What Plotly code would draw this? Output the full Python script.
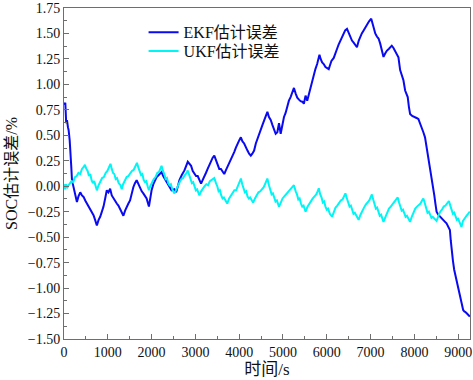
import plotly.graph_objects as go

# time (s) and SOC estimation error (%)
ekf_t = [0, 30, 50, 68, 90, 106, 130, 144, 165, 182, 220, 258, 295, 330, 371, 410, 447, 485, 523, 560,
         598, 635, 674, 710, 750, 790, 826, 865, 902, 940, 977, 1015, 1053, 1091, 1130, 1167, 1205, 1242,
         1280, 1318, 1356, 1395, 1432, 1470, 1508, 1545, 1583, 1620, 1659, 1700, 1735, 1775, 1811, 1850,
         1886, 1939, 1970, 2000, 2040, 2076, 2115, 2152, 2190, 2227, 2265, 2303, 2340, 2379, 2420, 2455,
         2520, 2561, 2600, 2636, 2690, 2750, 2826, 2860, 2902, 2940, 2977, 3015, 3053, 3090, 3129, 3165,
         3205, 3240, 3280, 3320, 3356, 3395, 3432, 3470, 3508, 3545, 3583, 3620, 3659, 3700, 3735, 3775,
         3811, 3850, 3886, 3925, 3962, 4000, 4038, 4075, 4114, 4150, 4189, 4227, 4265, 4300, 4341, 4380,
         4417, 4455, 4492, 4530, 4568, 4610, 4644, 4680, 4720, 4760, 4795, 4833, 4871, 4909, 4947, 4985,
         5023, 5060, 5098, 5135, 5174, 5212, 5250, 5290, 5326, 5365, 5402, 5440, 5477, 5515, 5553, 5590,
         5629, 5665, 5705, 5740, 5780, 5833, 5860, 5894, 5930, 5970, 6010, 6045, 6075, 6106, 6159, 6200,
         6235, 6270, 6311, 6350, 6386, 6420, 6462, 6500, 6538, 6575, 6614, 6650, 6689, 6730, 6765, 6800,
         6841, 6880, 6917, 6965, 7015, 7050, 7107, 7144, 7182, 7220, 7260, 7295, 7330, 7370, 7420, 7484,
         7520, 7561, 7600, 7636, 7675, 7710, 7750, 7789, 7848, 7875, 7902, 7950, 8016, 8050, 8091, 8130,
         8166, 8205, 8243, 8275, 8302, 8330, 8357, 8385, 8409, 8430, 8455, 8480, 8507, 8545, 8584, 8620,
         8659, 8700, 8734, 8770, 8811, 8830, 8848, 8880, 8909, 8935, 8961, 8990, 9016, 9040, 9061, 9090,
         9114, 9140, 9166, 9200, 9240, 9266]
ekf_err = [0.80, 0.82, 0.62, 0.65, 0.58, 0.55, 0.45, 0.38, 0.20, 0.06, -0.01, -0.07, -0.155, -0.10, -0.06,
           -0.09, -0.105, -0.14, -0.17, -0.19, -0.22, -0.26, -0.285, -0.33, -0.385, -0.33, -0.30, -0.25,
           -0.20, -0.12, -0.04, -0.06, -0.025, -0.09, -0.12, -0.155, -0.17, -0.19, -0.22, -0.25, -0.29,
           -0.24, -0.20, -0.17, -0.14, -0.07, -0.01, 0.03, 0.06, 0.02, -0.02, -0.05, -0.07, -0.10, -0.12,
           -0.20, -0.10, -0.04, 0.02, 0.06, 0.09, 0.105, 0.12, 0.14, 0.10, 0.07, 0.05, 0.025, -0.01, -0.04,
           -0.03, -0.06, 0.00, 0.06, 0.11, 0.155, 0.24, 0.22, 0.20, 0.15, 0.12, 0.10, 0.10, 0.06, 0.025,
           0.06, 0.09, 0.13, 0.17, 0.21, 0.25, 0.28, 0.30, 0.25, 0.20, 0.17, 0.17, 0.14, 0.12, 0.16, 0.19,
           0.23, 0.27, 0.30, 0.335, 0.38, 0.42, 0.45, 0.48, 0.44, 0.42, 0.38, 0.35, 0.32, 0.30, 0.32, 0.35,
           0.42, 0.47, 0.51, 0.55, 0.60, 0.645, 0.70, 0.73, 0.68, 0.65, 0.60, 0.565, 0.515, 0.53, 0.62,
           0.515, 0.60, 0.68, 0.72, 0.79, 0.84, 0.875, 0.93, 0.965, 0.91, 0.87, 0.85, 0.835, 0.83, 0.81,
           0.89, 0.84, 0.90, 0.97, 1.04, 1.10, 1.15, 1.20, 1.29, 1.25, 1.215, 1.20, 1.17, 1.16, 1.15, 1.19,
           1.23, 1.26, 1.30, 1.35, 1.39, 1.43, 1.47, 1.51, 1.53, 1.545, 1.50, 1.46, 1.43, 1.41, 1.39, 1.365,
           1.43, 1.47, 1.50, 1.53, 1.56, 1.59, 1.62, 1.645, 1.58, 1.50, 1.47, 1.45, 1.40, 1.33, 1.27, 1.30,
           1.33, 1.35, 1.38, 1.36, 1.33, 1.30, 1.265, 1.14, 1.09, 1.04, 0.94, 0.875, 0.78, 0.71, 0.69, 0.68,
           0.67, 0.66, 0.62, 0.58, 0.53, 0.48, 0.40, 0.32, 0.24, 0.155, 0.09, 0.025, -0.03, -0.09, -0.17,
           -0.25, -0.28, -0.30, -0.32, -0.335, -0.35, -0.365, -0.39, -0.43, -0.53, -0.63, -0.73, -0.82,
           -0.87, -0.92, -0.99, -1.05, -1.09, -1.12, -1.17, -1.215, -1.23, -1.235, -1.25, -1.27, -1.28]

ukf_t = [0, 20, 45, 70, 90, 130, 170, 210, 250, 290, 330, 370, 410, 450, 477, 510, 540, 570, 600, 630,
         660, 690, 720, 750, 790, 830, 870, 910, 950, 990, 1030, 1061, 1090, 1120, 1150, 1180, 1210, 1250,
         1290, 1318, 1350, 1390, 1430, 1470, 1510, 1550, 1590, 1630, 1666, 1700, 1730, 1760, 1790, 1820,
         1850, 1880, 1910, 1939, 1970, 2010, 2050, 2090, 2130, 2170, 2200, 2227, 2260, 2290, 2320, 2350,
         2380, 2410, 2440, 2480, 2523, 2560, 2600, 2640, 2680, 2720, 2760, 2800, 2825, 2860, 2890, 2920,
         2950, 2980, 3010, 3040, 3070, 3091, 3130, 3170, 3210, 3250, 3290, 3330, 3370, 3400, 3432, 3470,
         3500, 3530, 3560, 3590, 3620, 3650, 3690, 3727, 3770, 3810, 3850, 3890, 3930, 3970, 4005, 4039,
         4070, 4100, 4130, 4160, 4190, 4220, 4250, 4290, 4318, 4360, 4400, 4440, 4480, 4520, 4560, 4600,
         4643, 4680, 4710, 4740, 4770, 4800, 4830, 4860, 4890, 4909, 4950, 4990, 5030, 5070, 5110, 5150,
         5190, 5220, 5250, 5290, 5320, 5350, 5380, 5410, 5440, 5470, 5500, 5516, 5560, 5600, 5640, 5680,
         5720, 5760, 5790, 5818, 5850, 5880, 5910, 5940, 5970, 6000, 6030, 6070, 6120, 6160, 6200, 6240,
         6280, 6320, 6360, 6400, 6425, 6460, 6490, 6520, 6550, 6580, 6610, 6640, 6680, 6727, 6770, 6810,
         6850, 6890, 6930, 6970, 7000, 7030, 7060, 7090, 7120, 7150, 7180, 7210, 7240, 7270, 7295, 7340,
         7380, 7420, 7460, 7500, 7540, 7580, 7620, 7650, 7680, 7710, 7740, 7770, 7800, 7830, 7870, 7902,
         7940, 7980, 8020, 8060, 8100, 8140, 8175, 8205, 8240, 8270, 8300, 8330, 8360, 8390, 8420, 8460,
         8507, 8550, 8590, 8630, 8670, 8710, 8750, 8789, 8820, 8850, 8880, 8910, 8940, 8970, 9000, 9040,
         9075, 9110, 9150, 9190, 9230, 9266]
ukf_err = [0.02, -0.03, 0.02, -0.02, 0.00, 0.03, 0.05, 0.04, 0.09, 0.10, 0.13, 0.12, 0.17, 0.19, 0.21,
           0.17, 0.15, 0.10, 0.12, 0.06, 0.03, 0.05, -0.01, -0.04, 0.01, 0.05, 0.08, 0.09, 0.13, 0.15, 0.19,
           0.22, 0.17, 0.13, 0.12, 0.07, 0.08, 0.03, 0.01, -0.03, 0.02, 0.05, 0.09, 0.10, 0.13, 0.15, 0.16,
           0.20, 0.23, 0.18, 0.15, 0.11, 0.12, 0.06, 0.04, 0.05, 0.00, -0.04, 0.00, 0.04, 0.07, 0.09, 0.13,
           0.14, 0.17, 0.20, 0.15, 0.12, 0.07, 0.08, 0.03, 0.01, 0.02, -0.04, -0.07, -0.03, 0.00, 0.04, 0.07,
           0.08, 0.11, 0.13, 0.155, 0.10, 0.07, 0.03, 0.04, -0.01, -0.04, -0.03, -0.07, -0.09, -0.05, -0.02,
           0.00, 0.02, 0.01, 0.05, 0.06, 0.07, 0.08, 0.03, 0.00, -0.05, -0.04, -0.09, -0.12, -0.11, -0.15,
           -0.17, -0.12, -0.09, -0.06, -0.04, -0.04, 0.00, 0.03, 0.075, 0.02, -0.02, -0.06, -0.05, -0.10,
           -0.12, -0.11, -0.14, -0.16, -0.12, -0.09, -0.06, -0.05, -0.03, -0.01, 0.03, 0.075, 0.01, -0.03,
           -0.08, -0.07, -0.12, -0.15, -0.14, -0.18, -0.20, -0.16, -0.12, -0.10, -0.08, -0.07, -0.04, -0.03,
           -0.01, 0.01, -0.05, -0.08, -0.13, -0.12, -0.17, -0.20, -0.19, -0.23, -0.25, -0.20, -0.17, -0.14,
           -0.12, -0.10, -0.08, -0.05, -0.02, -0.08, -0.11, -0.16, -0.15, -0.20, -0.23, -0.22, -0.27, -0.30,
           -0.25, -0.21, -0.19, -0.16, -0.14, -0.13, -0.09, -0.07, -0.12, -0.16, -0.20, -0.19, -0.24, -0.27,
           -0.26, -0.30, -0.33, -0.28, -0.24, -0.21, -0.18, -0.16, -0.14, -0.11, -0.08, -0.13, -0.17, -0.22,
           -0.21, -0.26, -0.29, -0.28, -0.32, -0.35, -0.30, -0.25, -0.22, -0.20, -0.18, -0.16, -0.14, -0.11,
           -0.16, -0.20, -0.24, -0.23, -0.27, -0.30, -0.29, -0.32, -0.35, -0.30, -0.26, -0.22, -0.20, -0.18,
           -0.17, -0.14, -0.12, -0.17, -0.21, -0.26, -0.25, -0.29, -0.31, -0.30, -0.32, -0.34, -0.29, -0.25,
           -0.23, -0.20, -0.19, -0.16, -0.145, -0.19, -0.23, -0.27, -0.26, -0.30, -0.33, -0.32, -0.37, -0.40,
           -0.34, -0.31, -0.29, -0.27, -0.25]

series_names = ["EKF估计误差", "UKF估计误差"]
x_title = "时间/s"
y_title = "SOC估计误差/%"

FONT = "Liberation Serif, Times New Roman, Noto Sans CJK SC, serif"

fig = go.Figure()
fig.add_trace(go.Scatter(x=ekf_t, y=ekf_err, mode="lines", name=series_names[0],
                         line=dict(color="#0a0af0", width=2), legend="legend"))
fig.add_trace(go.Scatter(x=ukf_t, y=ukf_err, mode="lines", name=series_names[1],
                         line=dict(color="#00f5f5", width=2), legend="legend2"))

axis_common = dict(showline=True, linecolor="#6e6e6e", linewidth=1, mirror=True,
                   ticks="inside", ticklen=5, tickcolor="#6e6e6e", showgrid=False, zeroline=False,
                   ticklabeloverflow="allow",
                   tickfont=dict(family=FONT, size=14, color="#111"))

fig.update_xaxes(range=[0, 9270], dtick=1000, tick0=0,
                 minor=dict(ticks="inside", ticklen=3, dtick=500, tickcolor="#6e6e6e"),
                 title=dict(text=x_title, font=dict(family=FONT, size=17, color="#111"), standoff=4),
                 **axis_common)
fig.update_yaxes(range=[-1.5, 1.75], dtick=0.25, tick0=0, tickformat=".2f",
                 minor=dict(ticks="inside", ticklen=3, dtick=0.125, tickcolor="#6e6e6e"),
                 title=dict(text=y_title, font=dict(family=FONT, size=16, color="#111"), standoff=6),
                 **axis_common)

legend_style = dict(xanchor="left", yanchor="top", bgcolor="rgba(0,0,0,0)",
                    font=dict(family=FONT, size=16, color="#111"), itemwidth=30)

fig.update_layout(
    width=473, height=380,
    margin=dict(l=64, r=1, t=6, b=41),
    paper_bgcolor="white", plot_bgcolor="white",
    showlegend=True,
    legend=dict(x=0.196, y=0.978, **legend_style),
    legend2=dict(x=0.196, y=0.921, **legend_style),
)

fig.write_html("out.html", config={"displayModeBar": False},
               post_script="document.body.style.margin='0';")
